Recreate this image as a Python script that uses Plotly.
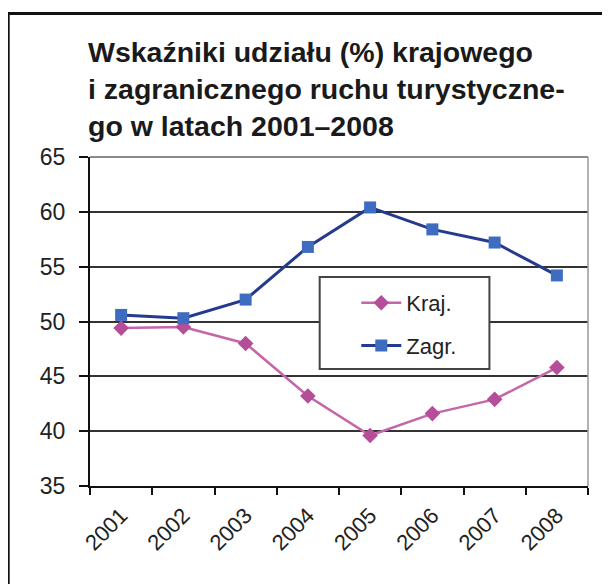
import plotly.graph_objects as go

years = ["2001", "2002", "2003", "2004", "2005", "2006", "2007", "2008"]
kraj = [49.4, 49.5, 48.0, 43.2, 39.6, 41.6, 42.9, 45.8]
zagr = [50.6, 50.3, 52.0, 56.8, 60.4, 58.4, 57.2, 54.2]
y_ticks = [35, 40, 45, 50, 55, 60, 65]
title_text = "Wskaźniki udziału (%) krajowego<br>i zagranicznego ruchu turystyczne-<br>go w latach 2001–2008"

FONT = "Liberation Sans, Arial, sans-serif"
OFF = 8  # page body margin

fig = go.Figure()
fig.add_trace(go.Scatter(
    x=years, y=kraj, name="Kraj.", mode="lines+markers", legendgroup="a",
    line=dict(color="#c466a8", width=2.5),
    marker=dict(symbol="diamond", size=12, color="#b44e98"),
))
fig.add_trace(go.Scatter(
    x=years, y=zagr, name="Zagr.", mode="lines+markers", legendgroup="b",
    line=dict(color="#243a8e", width=3),
    marker=dict(symbol="square", size=12, color="#3d6cc0"),
))

fig.update_layout(
    width=610 - OFF, height=584 - OFF,
    margin=dict(l=90 - OFF, r=30 - OFF, t=157 - OFF, b=98),
    paper_bgcolor="white", plot_bgcolor="white",
    font=dict(family=FONT, color="#222222"),
    title=dict(text=title_text, x=(88 - OFF) / 602, xanchor="left", xref="container",
               y=1 - (62 - OFF) / 576, yanchor="top", yref="container",
               font=dict(family=FONT, size=28.5, color="#1a1a1a", weight="bold")),
    showlegend=True,
    legend=dict(x=(352 - 90) / 490, y=(486 - 282) / 329, xanchor="left", yanchor="top",
                bgcolor="rgba(0,0,0,0)", borderwidth=0, itemwidth=40,
                font=dict(family=FONT, size=22, color="#222222"),
                traceorder="grouped", tracegroupgap=11),
    xaxis=dict(type="category", range=[-0.5, 7.5], showgrid=False,
               showline=True, linecolor="#111111", linewidth=2,
               ticks="outside", tickson="boundaries", ticklen=7, tickwidth=2, tickcolor="#111111",
               tickangle=-45, ticklabelstandoff=6,
               tickfont=dict(family=FONT, size=22, color="#222222")),
    yaxis=dict(range=[35, 65], tickvals=y_ticks, showgrid=True, gridcolor="#333333", gridwidth=1.8,
               showline=True, linecolor="#111111", linewidth=2, zeroline=False,
               ticks="outside", ticklen=9, tickwidth=1.5, tickcolor="#111111",
               ticklabelstandoff=9,
               tickfont=dict(family=FONT, size=23, color="#222222")),
)

# right plot border (light gray)
fig.add_shape(type="line", xref="x domain", yref="y domain", x0=1, x1=1, y0=0, y1=1,
              line=dict(color="#9a9a9a", width=1.5))
# top plot border (lighter gray, drawn over the 65 gridline)
fig.add_shape(type="line", xref="x domain", yref="y domain", x0=0, x1=1, y0=1, y1=1,
              line=dict(color="#8a8a8a", width=1.8))
# legend box
fig.add_shape(type="rect", xref="paper", yref="paper",
              x0=(316 - 90) / 490, x1=(483 - 90) / 490,
              y0=(486 - 369) / 329, y1=(486 - 277) / 329,
              line=dict(color="#444444", width=2), fillcolor="white", layer="above")
# outer frame
fig.add_shape(type="rect", xref="paper", yref="paper",
              x0=(9.5 - 90) / 490, x1=1.2, y0=-0.5, y1=(486 - 13.5) / 329,
              line=dict(color="#111111", width=3), fillcolor="rgba(0,0,0,0)")

fig.write_html("out.html")
